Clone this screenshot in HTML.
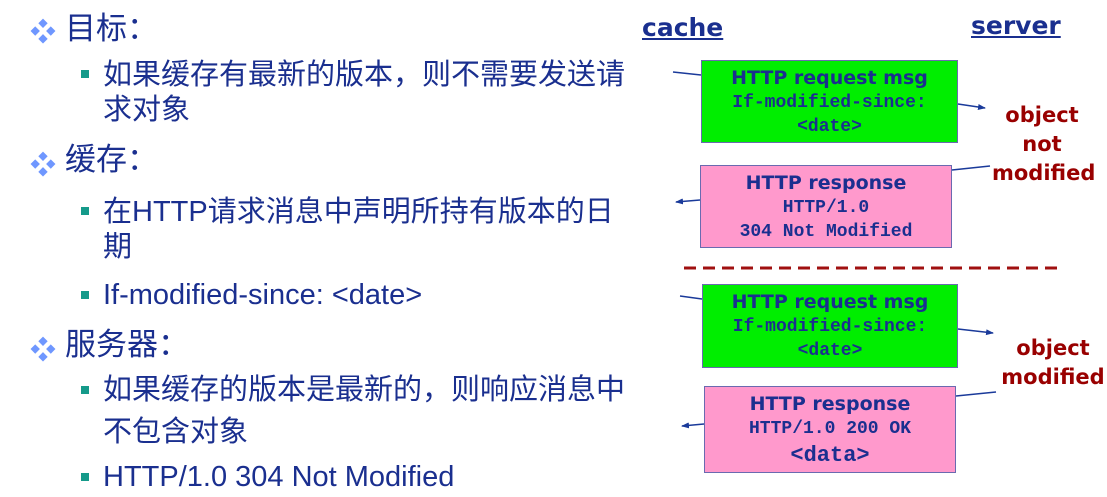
<!DOCTYPE html>
<html><head><meta charset="utf-8"><style>
body{margin:0;width:1107px;height:497px;background:#fff;position:relative;overflow:hidden;font-family:"Liberation Sans","Noto Sans CJK SC",sans-serif;color:#1a2f8f}
.t{position:absolute;white-space:nowrap;line-height:34px}
.l1{font-size:31px;line-height:36px}
.l2{font-size:29px}
.d{position:absolute;color:#6f97ff;font-size:26px}
.b{position:absolute;width:8px;height:8px;background:#159a8a}
.box{position:absolute;border:1.5px solid #6a6ab0;text-align:center;color:#1a2f8f;box-sizing:border-box}
.g{background:#00ee00}.p{background:#ff99cc}
.h{font-family:"Comic Sans MS","DejaVu Sans",sans-serif;font-weight:bold;font-size:19px;line-height:25px}
.m{font-family:"Liberation Mono",monospace;font-weight:bold;font-size:18px;line-height:24px}
.lab{position:absolute;font-family:"DejaVu Sans",sans-serif;font-weight:bold;color:#990000;font-size:21px;text-align:center;line-height:29px}
.hd{position:absolute;font-family:"DejaVu Sans",sans-serif;font-weight:bold;font-size:25px;color:#1a2f8f;text-decoration:underline}
</style></head><body>
<div class="d" style="left:30px;top:12px">❖</div><div class="t l1" style="left:65px;top:11px">目标：</div>
<div class="b" style="left:81px;top:70px"></div><div class="t l2" style="left:103px;top:58px">如果缓存有最新的版本，则不需要发送请</div>
<div class="t l2" style="left:103px;top:93px">求对象</div>
<div class="d" style="left:30px;top:145px">❖</div><div class="t l1" style="left:65px;top:142px">缓存：</div>
<div class="b" style="left:81px;top:207px"></div><div class="t l2" style="left:103px;top:195px">在HTTP请求消息中声明所持有版本的日</div>
<div class="t l2" style="left:103px;top:230px">期</div>
<div class="b" style="left:81px;top:291px"></div><div class="t l2" style="left:103px;top:278px">If-modified-since: &lt;date&gt;</div>
<div class="d" style="left:30px;top:330px">❖</div><div class="t l1" style="left:65px;top:327px">服务器：</div>
<div class="b" style="left:81px;top:386px"></div><div class="t l2" style="left:103px;top:373px">如果缓存的版本是最新的，则响应消息中</div>
<div class="t l2" style="left:103px;top:415px">不包含对象</div>
<div class="b" style="left:81px;top:473px"></div><div class="t l2" style="left:103px;top:460px">HTTP/1.0 304 Not Modified</div>

<div class="hd" style="left:642px;top:13px">cache</div>
<div class="hd" style="left:971px;top:11px">server</div>

<div class="box g" style="left:701px;top:60px;width:257px;height:83px;padding-top:5px"><div class="h">HTTP request msg</div><div class="m">If-modified-since:</div><div class="m">&lt;date&gt;</div></div>
<div class="box p" style="left:700px;top:165px;width:252px;height:83px;padding-top:5px"><div class="h">HTTP response</div><div class="m">HTTP/1.0</div><div class="m">304 Not Modified</div></div>
<div class="box g" style="left:702px;top:284px;width:256px;height:84px;padding-top:5px"><div class="h">HTTP request msg</div><div class="m">If-modified-since:</div><div class="m">&lt;date&gt;</div></div>
<div class="box p" style="left:704px;top:386px;width:252px;height:87px;padding-top:5px"><div class="h">HTTP response</div><div class="m">HTTP/1.0 200 OK</div><div class="m" style="font-size:22px;line-height:30px">&lt;data&gt;</div></div>

<div class="lab" style="left:992px;top:101px;width:100px">object<br>not<br>modified</div>
<div class="lab" style="left:1000px;top:334px;width:106px">object<br>modified</div>

<svg style="position:absolute;left:0;top:0" width="1107" height="497">
<defs><marker id="a" markerWidth="8" markerHeight="8" refX="7" refY="4" orient="auto" markerUnits="userSpaceOnUse"><path d="M0,1 L8,4 L0,7z" fill="#1a3a9a"/></marker></defs>
<g stroke="#1a3a9a" stroke-width="1.5" fill="none">
<line x1="673" y1="72" x2="701" y2="75"/>
<line x1="958" y1="104" x2="985" y2="108" marker-end="url(#a)"/>
<line x1="990" y1="166" x2="952" y2="170"/>
<line x1="700" y1="200" x2="676" y2="202" marker-end="url(#a)"/>
<line x1="680" y1="296" x2="702" y2="299"/>
<line x1="958" y1="329" x2="993" y2="333" marker-end="url(#a)"/>
<line x1="996" y1="392" x2="956" y2="396"/>
<line x1="704" y1="424" x2="682" y2="426" marker-end="url(#a)"/>
</g>
<line x1="684" y1="268" x2="1058" y2="268" stroke="#a01010" stroke-width="3" stroke-dasharray="12,7"/>
</svg>
</body></html>
